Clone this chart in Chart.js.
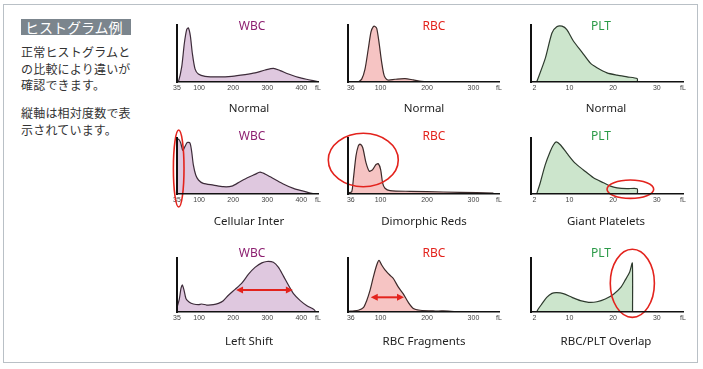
<!DOCTYPE html>
<html>
<head>
<meta charset="utf-8">
<script src="https://cdn.jsdelivr.net/npm/chart.js@4/dist/chart.umd.min.js"></script>
<style>
  html, body { margin: 0; padding: 0; background: #fff; }
  body { width: 703px; height: 369px; position: relative; overflow: hidden;
         font-family: "Noto Sans CJK JP", "Noto Sans", sans-serif; }
  #frame { position: absolute; left: 3px; top: 4px; width: 695px; height: 359px;
           border: 1.5px solid #b9c0c6; box-sizing: border-box; }
  #tag { position: absolute; left: 21px; top: 19px; width: 110px; height: 16px;
         background: #7b858d; color: #fff; font-size: 14px; line-height: 16px;
         padding-left: 4px; box-sizing: border-box; white-space: nowrap; }
  .note { position: absolute; left: 21px; width: 120px; font-size: 12px;
          line-height: 16.7px; color: #333; letter-spacing: 0.2px; }
  .box { position: absolute; }
  .lbl { position: absolute; transform: translate(-50%, -50%); white-space: nowrap;
         font-family: "Noto Sans", "Open Sans", sans-serif; }
  .ttl { font-size: 12px; }
  .cap { font-size: 11.5px; color: #222; }
</style>
</head>
<body>
<div id="frame"></div>
<div id="tag">ヒストグラム例</div>
<div class="note" style="top:44px">正常ヒストグラムと<br>の比較により違いが<br>確認できます。</div>
<div class="note" style="top:105px">縦軸は相対度数で表<br>示されています。</div>

<script>
// x = cell volume (fL), y = relative frequency (0-100 = top of the axis)
const WBC_TICKS = [35, 100, 200, 300, 400];
const RBC_TICKS = [36, 100, 200, 300];
const PLT_TICKS = [2, 10, 20, 30];

const wbcNormalX = [35.5, 38.9, 48.7, 56.6, 63.4, 68.3, 74.2, 80.1, 87.9, 97.7, 117.4, 156.6, 195.8, 235, 264.4, 293.8, 318.3, 337.9, 362.4, 391.8, 421.3, 448];
const wbcNormalY = [0, 0, 26, 68, 92, 95, 81, 50, 23, 14, 10, 9, 10, 13, 16, 21, 24, 20, 14, 8, 4, 0.6];

const rbcNormalX = [52.2, 59.5, 66.6, 73.7, 79.5, 84.5, 88.1, 91.8, 96.7, 102.5, 108.1, 115.5, 131.2, 152.7, 170.5, 188.6, 210.2, 230];
const rbcNormalY = [0, 5, 22.6, 58.3, 88, 97, 97.5, 94, 70, 34.5, 10.7, 3.6, 4.8, 6, 3.6, 1.2, 0.6, 0];

const pltNormalX = [2.5, 4.45, 6.0, 7.1, 8.3, 9.4, 10.9, 12.9, 14.8, 16.3, 18.6, 20.9, 23.2, 25.5, 25.55];
const pltNormalY = [0, 41, 86, 97, 98, 92, 72, 52, 33, 25, 16, 12, 9, 6, 0];

const cellularX = [35, 40, 46, 52, 58.5, 65, 73, 78, 83, 90, 98, 112, 142, 171, 196, 220, 245, 264, 279, 299, 323, 347, 377, 406, 431, 441];
const cellularY = [96, 98, 91, 78, 85, 92, 91, 76, 52, 34, 25, 19, 16, 13, 14, 22, 30, 35, 39, 34, 26, 18, 10, 5, 1, 0];

const dimorphicX = [31, 38, 41.4, 47.2, 52.2, 55.8, 61.6, 68.7, 75.9, 83.1, 90.3, 95.3, 100.3, 104.6, 109.6, 120.4, 163.4, 235, 307, 343];
const dimorphicY = [2, 4, 25.5, 68, 86, 89, 83, 56, 40.6, 43.6, 52.7, 54, 43.6, 19.4, 10.3, 6.1, 4.8, 3.6, 2.4, 1.8];

const giantX = [2.5, 3.3, 4.45, 5.6, 6.36, 6.97, 7.9, 9.4, 11.3, 13.2, 15.5, 17.8, 19.4, 20.9, 23.2, 25.5, 25.55];
const giantY = [0, 19.6, 52, 76, 88, 93, 88, 73, 55, 43, 29, 20, 14, 11, 9.5, 9.5, 0];

const leftShiftX = [35, 41.9, 46.8, 50.7, 55.6, 61.5, 71.3, 83.1, 97.8, 107.6, 122, 141.8, 156.6, 171, 186, 205.6, 225.3, 245, 264, 284, 298.8, 318, 333, 347.6, 362, 377, 396.8, 416.5, 436, 441];
const leftShiftY = [8, 24.5, 44, 50, 40.6, 24.5, 18, 14.8, 13.5, 14.8, 12.9, 13.5, 16, 21, 31, 42, 53.5, 70, 82.6, 91, 93.5, 92, 82.6, 66.5, 50, 34, 21, 11.6, 5.2, 2];

const fragmentsX = [31, 40, 52.2, 63, 70.2, 77.4, 84.6, 91.8, 96.8, 102.5, 109.6, 120.4, 127.6, 138.4, 149, 159.8, 170.6, 185, 213.6, 235, 271, 343];
const fragmentsY = [1, 1.9, 3.2, 8, 21, 40, 65, 87, 95.6, 87, 78, 68, 62, 46, 33.5, 17.7, 6.3, 3.2, 1.9, 1.9, 0.6, 0];

const overlapX = [2.5, 2.9, 3.7, 4.8, 6.0, 7.1, 8.6, 10.6, 12.5, 14.4, 16.3, 18.2, 20.1, 21.7, 22.8, 23.8, 24.4, 24.45];
const overlapY = [0, 6, 15, 27, 34.5, 35.7, 34, 27, 21, 18, 19, 24, 33, 45, 59.5, 74, 90.5, 0];

// red marks, in data units: ring = [cx, cy, rx, ry], span = [x1, x2, y]
const cellularRing = [40, 45.5, 15.6, 68.8];
const dimorphicRing = [62.9, 60.7, 75.3, 47.7];
const giantRing = [23.95, 8.6, 5.34, 16.4];
const overlapRing = [24.4, 53.1, 5.05, 63];
const leftShiftSpan = [208.5, 375.3, 40.7];
const fragmentsSpan = [78.9, 150.5, 27.2];

const RED = "#e3231d";

const KINDS = {
  WBC: { min: 35, max: 449, ticks: WBC_TICKS, fill: "#dfc8df", line: "#3d2c3a", color: "#8c1f70", titleX: 252 },
  RBC: { min: 30, max: 355, ticks: RBC_TICKS, fill: "#f6c4c3", line: "#3d2a2a", color: "#e3231d", titleX: 434 },
  PLT: { min: 1.2, max: 36, ticks: PLT_TICKS, fill: "#cce5cc", line: "#2d3a2d", color: "#2b9a48", titleX: 601 },
};

// plot areas in page pixels
const COLS = [[177, 318], [348, 499], [531, 683]];
const ROWS = [[25, 82], [138, 194], [258, 312]];
const TITLE_Y = [25, 135, 252];
const CAP_Y = [107, 220, 340];
const CAP_X = [249, 424, 606];

const PANELS = [
  { kind: "WBC", col: 0, row: 0, cap: "Normal", xs: wbcNormalX, ys: wbcNormalY },
  { kind: "RBC", col: 1, row: 0, cap: "Normal", xs: rbcNormalX, ys: rbcNormalY },
  { kind: "PLT", col: 2, row: 0, cap: "Normal", xs: pltNormalX, ys: pltNormalY },
  { kind: "WBC", col: 0, row: 1, cap: "Cellular Inter", xs: cellularX, ys: cellularY, ring: cellularRing },
  { kind: "RBC", col: 1, row: 1, cap: "Dimorphic Reds", xs: dimorphicX, ys: dimorphicY, ring: dimorphicRing },
  { kind: "PLT", col: 2, row: 1, cap: "Giant Platelets", xs: giantX, ys: giantY, ring: giantRing },
  { kind: "WBC", col: 0, row: 2, cap: "Left Shift", xs: leftShiftX, ys: leftShiftY, span: leftShiftSpan },
  { kind: "RBC", col: 1, row: 2, cap: "RBC Fragments", xs: fragmentsX, ys: fragmentsY, span: fragmentsSpan },
  { kind: "PLT", col: 2, row: 2, cap: "RBC/PLT Overlap", xs: overlapX, ys: overlapY, ring: overlapRing },
];

const PAD_L = 25, PAD_R = 10, PAD_T = 12, PAD_B = 8, AXIS_H = 13;

const marks = {
  id: "marks",
  afterDatasetsDraw(chart, args, opts) {
    const { ctx, scales: { x, y } } = chart;
    ctx.save();
    ctx.strokeStyle = RED;
    ctx.fillStyle = RED;
    if (opts.ring) {
      const [cx, cy, rx, ry] = opts.ring;
      const px = x.getPixelForValue(cx), py = y.getPixelForValue(cy);
      ctx.lineWidth = 1.6;
      ctx.beginPath();
      ctx.ellipse(px, py, Math.abs(x.getPixelForValue(cx + rx) - px),
        Math.abs(y.getPixelForValue(cy + ry) - py), 0, 0, Math.PI * 2);
      ctx.stroke();
    }
    if (opts.span) {
      const [x1, x2, v] = opts.span;
      const a = x.getPixelForValue(x1), b = x.getPixelForValue(x2), py = y.getPixelForValue(v);
      ctx.lineWidth = 2;
      ctx.beginPath();
      ctx.moveTo(a + 4, py);
      ctx.lineTo(b - 4, py);
      ctx.stroke();
      for (const [tip, dir] of [[a, 1], [b, -1]]) {
        ctx.beginPath();
        ctx.moveTo(tip, py);
        ctx.lineTo(tip + dir * 7, py - 3.5);
        ctx.lineTo(tip + dir * 7, py + 3.5);
        ctx.closePath();
        ctx.fill();
      }
    }
    ctx.restore();
  },
};

function addLabel(text, x, y, cls, color) {
  const el = document.createElement("div");
  el.className = "lbl " + cls;
  el.style.left = x + "px";
  el.style.top = y + "px";
  if (color) el.style.color = color;
  el.textContent = text;
  document.body.appendChild(el);
}

for (const p of PANELS) {
  const k = KINDS[p.kind];
  const [left, right] = COLS[p.col];
  const [top, bottom] = ROWS[p.row];

  const box = document.createElement("div");
  box.className = "box";
  box.style.left = (left - PAD_L) + "px";
  box.style.top = (top - PAD_T) + "px";
  box.style.width = (right - left + PAD_L + PAD_R) + "px";
  box.style.height = (bottom - top + PAD_T + AXIS_H + PAD_B) + "px";
  const canvas = document.createElement("canvas");
  box.appendChild(canvas);
  document.body.appendChild(box);

  new Chart(canvas, {
    type: "line",
    data: {
      datasets: [{
        data: p.xs.map((x, i) => ({ x, y: p.ys[i] })),
        borderColor: k.line,
        borderWidth: 1.2,
        backgroundColor: k.fill,
        fill: "origin",
        pointRadius: 0,
        tension: 0.25,
      }],
    },
    options: {
      responsive: true,
      maintainAspectRatio: false,
      animation: false,
      events: [],
      layout: { padding: { left: PAD_L, right: PAD_R, top: PAD_T, bottom: PAD_B } },
      plugins: {
        legend: { display: false },
        tooltip: { enabled: false },
        marks: { ring: p.ring, span: p.span },
      },
      scales: {
        x: {
          type: "linear",
          min: k.min,
          max: k.max,
          afterBuildTicks: (axis) => {
            axis.ticks = [...k.ticks, k.max].map((value) => ({ value }));
          },
          grid: { display: false, drawTicks: false },
          border: { display: true, color: "#111", width: 1.5, z: 1 },
          ticks: {
            autoSkip: false,
            maxRotation: 0,
            padding: 3,
            color: "#444",
            font: { family: "Liberation Sans", size: 7, lineHeight: 1 },
            callback: (v) => (v === k.max ? "fL" : v),
          },
        },
        y: {
          min: 0,
          max: 100,
          grid: { display: false, drawTicks: false },
          border: { display: true, color: "#111", width: 2, z: 1 },
          ticks: { display: false },
        },
      },
    },
    plugins: [marks],
  });

  addLabel(p.kind, k.titleX, TITLE_Y[p.row], "ttl", k.color);
  addLabel(p.cap, CAP_X[p.col], CAP_Y[p.row], "cap");
}
</script>
</body>
</html>
